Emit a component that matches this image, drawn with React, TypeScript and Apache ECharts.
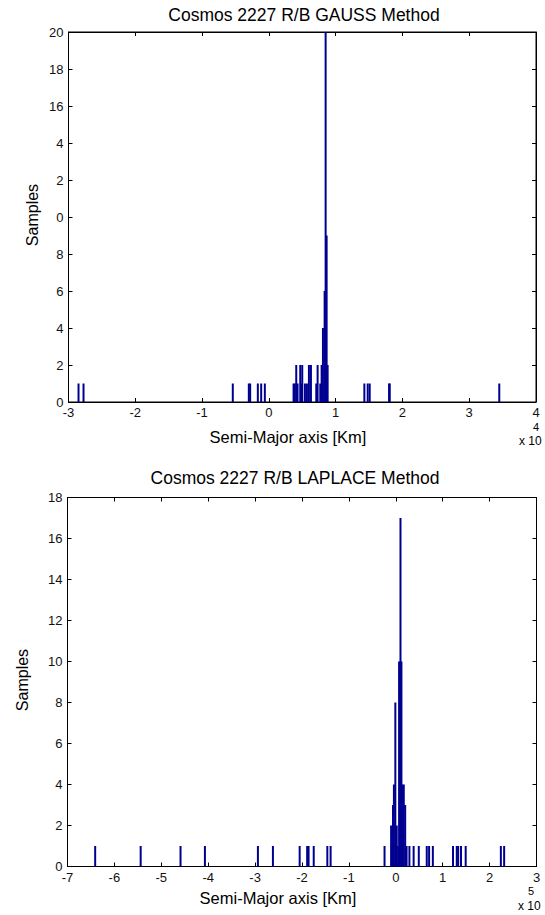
import React, { useEffect, useRef } from "react";
import * as echarts from "echarts";

// GAUSS method histogram (x in units of 1e4 km)
const gaussX = [-2.85, -2.775, -0.54, -0.3, -0.28, -0.165, -0.115, -0.06, 0.37, 0.39, 0.41, 0.43, 0.47, 0.49, 0.5, 0.54, 0.57, 0.6, 0.63, 0.71, 0.73, 0.77, 0.79, 0.81, 0.835, 0.85, 0.865, 0.88, 1.43, 1.48, 1.51, 1.8, 1.81, 3.45];
const gaussCount = [1, 1, 1, 1, 1, 1, 1, 1, 1, 1, 2, 1, 2, 1, 2, 1, 1, 2, 2, 1, 2, 1, 2, 4, 6, 20, 9, 2, 1, 1, 1, 1, 1, 1];
const gaussYTickLabels = ["0", "2", "4", "6", "8", "0", "2", "4", "16", "18", "20"];
const gaussXTickLabels = ["-3", "-2", "-1", "0", "1", "2", "3", "4"];

// LAPLACE method histogram (x in units of 1e5 km)
const laplaceX = [-6.41, -5.44, -4.59, -4.07, -2.94, -2.62, -2.05, -1.89, -1.86, -1.75, -1.46, -1.39, -0.24, -0.1, -0.06, -0.04, -0.01, 0.02, 0.05, 0.07, 0.09, 0.1, 0.12, 0.14, 0.17, 0.2, 0.23, 0.29, 0.38, 0.49, 0.66, 0.71, 0.79, 1.22, 1.3, 1.33, 1.39, 1.49, 2.24, 2.31];
const laplaceCount = [1, 1, 1, 1, 1, 1, 1, 1, 1, 1, 1, 1, 1, 2, 3, 4, 8, 2, 1, 10, 10, 17, 10, 4, 4, 3, 1, 1, 1, 1, 1, 1, 1, 1, 1, 1, 1, 1, 1, 1];
const laplaceYTickLabels = ["0", "2", "4", "6", "8", "10", "12", "14", "16", "18"];
const laplaceXTickLabels = ["-7", "-6", "-5", "-4", "-3", "-2", "-1", "0", "1", "2", "3"];

const FONT = "'Liberation Sans', Arial, sans-serif";
const BAR_COLOR = "#000090";

function bottomX(gridIndex: number, min: number, max: number, labels: string[]) {
  return {
    gridIndex,
    type: "value",
    min,
    max,
    interval: 1,
    position: "bottom",
    axisLine: { show: true, onZero: false, lineStyle: { color: "#000", width: 1 } },
    axisTick: { show: true, inside: true, length: 4, lineStyle: { color: "#000" } },
    axisLabel: {
      show: true,
      margin: 4,
      fontSize: 13,
      color: "#111",
      fontFamily: FONT,
      formatter: (v: number) => labels[Math.round(v - min)] ?? "",
    },
    splitLine: { show: false },
  };
}
function topX(gridIndex: number, min: number, max: number) {
  return {
    gridIndex,
    type: "value",
    min,
    max,
    interval: 1,
    position: "top",
    axisLine: { show: true, onZero: false, lineStyle: { color: "#000", width: 1 } },
    axisTick: { show: true, inside: true, length: 4, lineStyle: { color: "#000" } },
    axisLabel: { show: false },
    splitLine: { show: false },
  };
}
function leftY(gridIndex: number, max: number, labels: string[]) {
  return {
    gridIndex,
    type: "value",
    min: 0,
    max,
    interval: 2,
    position: "left",
    axisLine: { show: true, onZero: false, lineStyle: { color: "#000", width: 1 } },
    axisTick: { show: true, inside: true, length: 4, lineStyle: { color: "#000" } },
    axisLabel: {
      show: true,
      margin: 5,
      fontSize: 13,
      color: "#111",
      fontFamily: FONT,
      formatter: (v: number) => labels[Math.round(v / 2)] ?? "",
    },
    splitLine: { show: false },
  };
}
function rightY(gridIndex: number, max: number) {
  return {
    gridIndex,
    type: "value",
    min: 0,
    max,
    interval: 2,
    position: "right",
    axisLine: { show: true, onZero: false, lineStyle: { color: "#000", width: 1 } },
    axisTick: { show: true, inside: true, length: 4, lineStyle: { color: "#000" } },
    axisLabel: { show: false },
    splitLine: { show: false },
  };
}

function txt(text: string, x: number, y: number, fontSize: number, align = "center", rotation = 0) {
  return {
    type: "text",
    x,
    y,
    rotation,
    style: {
      text,
      fill: "#000",
      fontSize,
      fontFamily: FONT,
      align,
      verticalAlign: "middle",
    },
  };
}

export default function App() {
  const ref = useRef<HTMLDivElement>(null);
  useEffect(() => {
    document.body.style.margin = "0";
    if (!ref.current) return;
    const chart = echarts.init(ref.current, undefined, { renderer: "svg" });
    const gaussData = gaussX.map((x, i) => [x, gaussCount[i]]);
    const laplaceData = laplaceX.map((x, i) => [x, laplaceCount[i]]);
    chart.setOption({
      animation: false,
      backgroundColor: "#fff",
      grid: [
        { left: 68.5, top: 32, width: 467.5, height: 370, show: true, borderColor: "#000", borderWidth: 1, backgroundColor: "#fff" },
        { left: 67.5, top: 497.5, width: 469, height: 369, show: true, borderColor: "#000", borderWidth: 1, backgroundColor: "#fff" },
      ],
      xAxis: [
        bottomX(0, -3, 4, gaussXTickLabels),
        topX(0, -3, 4),
        bottomX(1, -7, 3, laplaceXTickLabels),
        topX(1, -7, 3),
      ],
      yAxis: [
        leftY(0, 20, gaussYTickLabels),
        rightY(0, 20),
        leftY(1, 18, laplaceYTickLabels),
        rightY(1, 18),
      ],
      series: [
        {
          type: "bar",
          name: "GAUSS",
          xAxisIndex: 0,
          yAxisIndex: 0,
          data: gaussData,
          barWidth: 2,
          itemStyle: { color: BAR_COLOR },
        },
        {
          type: "bar",
          name: "LAPLACE",
          xAxisIndex: 2,
          yAxisIndex: 2,
          data: laplaceData,
          barWidth: 2,
          itemStyle: { color: BAR_COLOR },
        },
      ],
      graphic: [
        txt("Cosmos 2227 R/B GAUSS Method", 304, 15, 17.5),
        txt("Samples", 32, 215, 16, "center", Math.PI / 2),
        txt("Semi-Major axis [Km]", 288, 437, 16.5),
        txt("x 10", 519, 441, 12, "left"),
        txt("4", 533, 427, 11, "left"),
        txt("Cosmos 2227 R/B LAPLACE Method", 295, 478, 17.5),
        txt("Samples", 22, 680, 16, "center", Math.PI / 2),
        txt("Semi-Major axis [Km]", 278, 898, 16.5),
        txt("x 10", 518, 906, 12, "left"),
        txt("5", 528, 891, 11, "left"),
      ],
    });
    return () => chart.dispose();
  }, []);
  return <div ref={ref} style={{ width: 545, height: 915 }} />;
}
